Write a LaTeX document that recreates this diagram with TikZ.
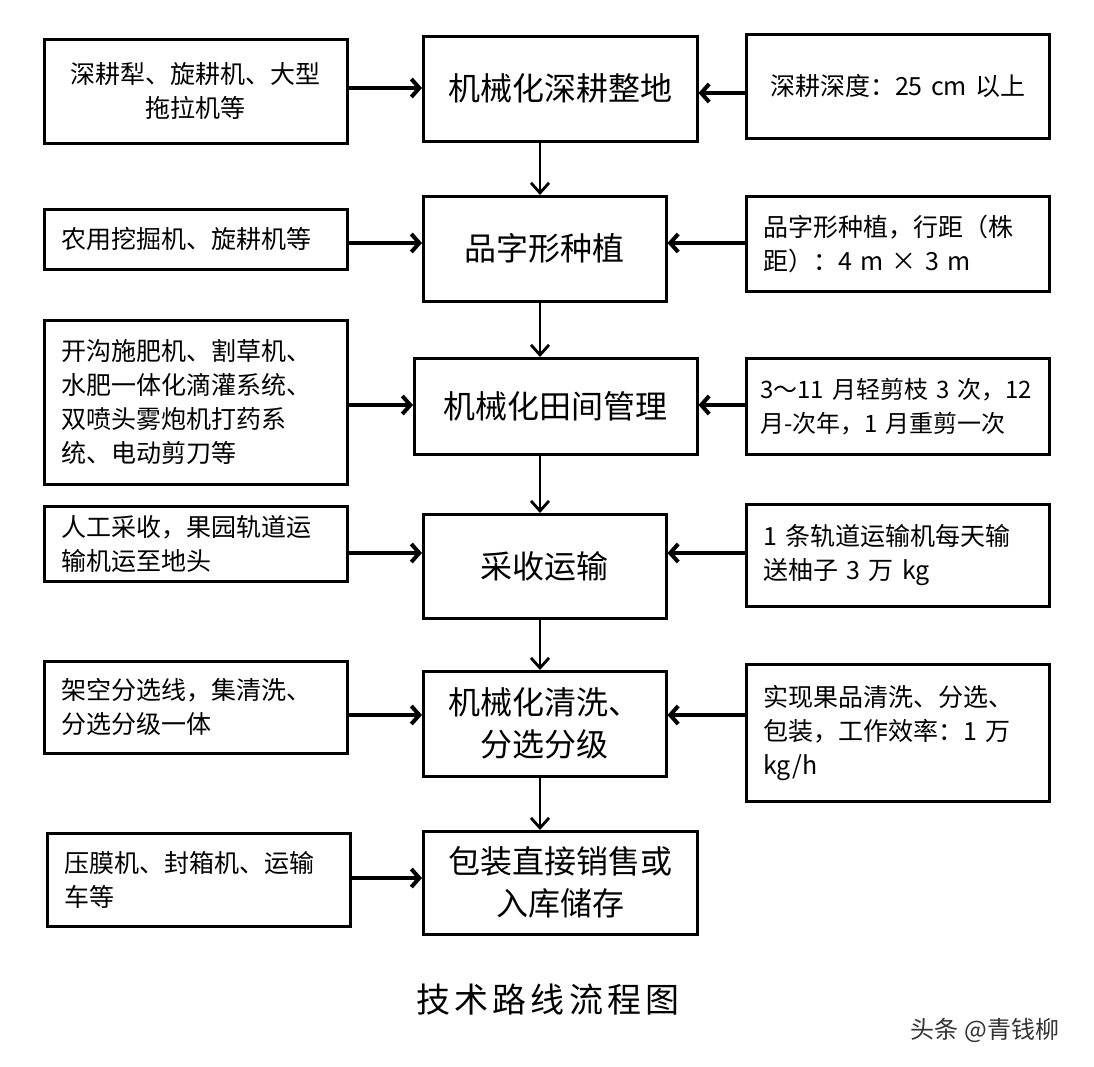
\documentclass[tikz,border=0pt]{standalone}
\usepackage{fontspec}
\setmainfont{Noto Sans CJK SC}
\usetikzlibrary{arrows.meta}
\begin{document}
\begin{tikzpicture}[x=1pt,y=-1pt,
  box/.style={draw, line width=2.5pt, anchor=north west, inner sep=0pt},
  sidebox/.style={box, inner xsep=17pt, text width=269pt, align=left,
    font=\fontsize{25}{34}\selectfont},
  cbox/.style={box, align=center, font=\fontsize{32}{42}\selectfont},
  harrow/.style={line width=4pt, -{Straight Barb[length=8pt,width=18pt]}},
  varrow/.style={line width=2.8pt, -{Straight Barb[length=10pt,width=18pt]}}
]
\path[fill=white] (0,0) rectangle (1094,1066);

% left column
\node[sidebox, align=center, minimum height=104pt] (L1) at (43,38) {深耕犁、旋耕机、大型\\拖拉机等};
\node[sidebox, minimum height=60pt] (L2) at (43,208) {农用挖掘机、旋耕机等};
\node[sidebox, minimum height=164pt] (L3) at (43,319) {开沟施肥机、割草机、\\水肥一体化滴灌系统、\\双喷头雾炮机打药系\\统、电动剪刀等};
\node[sidebox, minimum height=75pt] (L4) at (43,505) {人工采收，果园轨道运\\输机运至地头};
\node[sidebox, minimum height=92pt] (L5) at (43,660) {架空分选线，集清洗、\\分选分级一体};
\node[sidebox, minimum height=93pt] (L6) at (46,832) {压膜机、封箱机、运输\\车等};

% centre column
\node[cbox, minimum width=274pt, minimum height=105pt] (C1) at (422,35) {机械化深耕整地};
\node[cbox, minimum width=243pt, minimum height=105pt] (C2) at (422,195) {品字形种植};
\node[cbox, minimum width=283pt, minimum height=96pt] (C3) at (413,357) {机械化田间管理};
\node[cbox, minimum width=243pt, minimum height=104pt] (C4) at (422,513) {采收运输};
\node[cbox, minimum width=243pt, minimum height=105pt] (C5) at (422,670) {机械化清洗、\\分选分级};
\node[cbox, minimum width=274pt, minimum height=103pt] (C6) at (422,830) {包装直接销售或\\入库储存};

% right column
\node[sidebox, align=center, minimum height=104pt] (R1) at (745,33) {深耕深度：25 cm 以上};
\node[sidebox, minimum height=95pt] (R2) at (745,195) {品字形种植，行距（株\\距）：4 m × 3 m};
\node[sidebox, inner xsep=14pt, text width=275pt, minimum height=96pt,
  font=\fontsize{24}{34}\selectfont] (R3) at (745,357) {\mbox{3～11 月轻剪枝 3 次，12}\\\mbox{月-次年，1 月重剪一次}};
\node[sidebox, minimum height=102pt] (R4) at (745,503) {1 条轨道运输机每天输\\送柚子 3 万 kg};
\node[sidebox, minimum height=137pt] (R5) at (745,663) {实现果品清洗、分选、\\包装，工作效率：1 万\\kg/h};

% arrow levels
\coordinate (a1) at (0,88);
\coordinate (b1) at (0,93);
\coordinate (a2) at (0,243);
\coordinate (a3) at (0,405);
\coordinate (a4) at (0,553);
\coordinate (a5) at (0,715);
\coordinate (a6) at (0,878);
\coordinate (v) at (540,0);

\draw[harrow] (L1.east |- a1) -- (C1.west |- a1);
\draw[harrow] (L2.east |- a2) -- (C2.west |- a2);
\draw[harrow] (L3.east |- a3) -- (C3.west |- a3);
\draw[harrow] (L4.east |- a4) -- (C4.west |- a4);
\draw[harrow] (L5.east |- a5) -- (C5.west |- a5);
\draw[harrow] (L6.east |- a6) -- (C6.west |- a6);

\draw[harrow] (R1.west |- b1) -- (C1.east |- b1);
\draw[harrow] (R2.west |- a2) -- (C2.east |- a2);
\draw[harrow] (R3.west |- a3) -- (C3.east |- a3);
\draw[harrow] (R4.west |- a4) -- (C4.east |- a4);
\draw[harrow] (R5.west |- a5) -- (C5.east |- a5);

\draw[varrow] (v |- C1.south) -- (v |- C2.north);
\draw[varrow] (v |- C2.south) -- (v |- C3.north);
\draw[varrow] (v |- C3.south) -- (v |- C4.north);
\draw[varrow] (v |- C4.south) -- (v |- C5.north);
\draw[varrow] (v |- C5.south) -- (v |- C6.north);

\node[font=\fontsize{34}{40}\selectfont\addfontfeature{LetterSpace=12}] (title) at (548,1000) {技术路线流程图};
\node[font=\fontsize{24}{28}\selectfont, text=black!80] (wm) at (985,1030) {头条 @青钱柳};
\end{tikzpicture}
\end{document}
